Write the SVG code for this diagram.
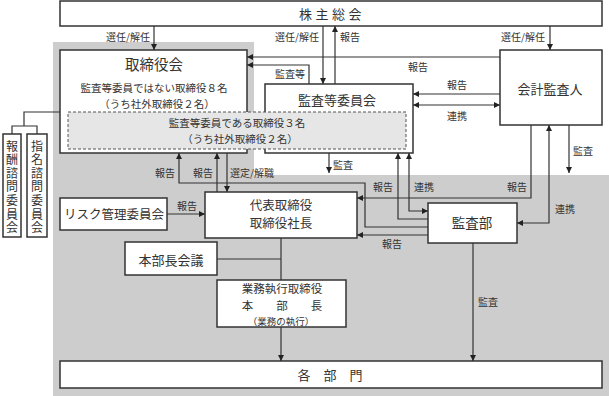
<svg xmlns="http://www.w3.org/2000/svg" width="609" height="396" viewBox="0 0 609 396">
<defs>
<marker id="ah" viewBox="0 0 6 6" refX="6" refY="3" markerWidth="6" markerHeight="6" markerUnits="userSpaceOnUse" orient="auto-start-reverse"><path d="M0,0 L6,3 L0,6 z" fill="#222"/></marker>
<style>
.box{fill:#fff;stroke:#333;stroke-width:1.5}
.ln{fill:none;stroke:#333;stroke-width:1.2}
.ar{marker-end:url(#ah)}
.ar2{marker-start:url(#ah);marker-end:url(#ah)}
text{font-family:"Noto Sans CJK JP","Noto Sans CJK SC",sans-serif;fill:#333}
.lb{font-size:10px}
.nd{font-size:13px}
.vt{font-size:12px;writing-mode:vertical-rl;letter-spacing:1.6px}
</style>
</defs>
<path d="M53,42 H254 V175 H609 V396 H53 Z" fill="#cdcdcd"/>

<g id="kabunushi"><rect class="box" x="60" y="1" width="542" height="25"/><text class="nd" x="332" y="19" text-anchor="middle" letter-spacing="3.5">株主総会</text></g>

<g id="torishimariyakukai"><rect class="box" x="60" y="50" width="187" height="103"/>
<text x="154" y="70" text-anchor="middle" font-size="14.5">取締役会</text>
<text x="154" y="92" text-anchor="middle" font-size="10.5">監査等委員ではない取締役８名</text>
<text x="157" y="107.5" text-anchor="middle" font-size="10.5">（うち社外取締役２名）</text></g>

<g id="kansatouiinkai"><rect class="box" x="265" y="84" width="148" height="69"/>
<text class="nd" x="337" y="105" text-anchor="middle">監査等委員会</text></g>

<g id="kansatou-dashed"><rect x="68" y="112" width="338" height="37" fill="#e6e6e6" stroke="#555" stroke-width="1" stroke-dasharray="3,2"/>
<text x="237" y="127" text-anchor="middle" font-size="10.5">監査等委員である取締役３名</text>
<text x="240" y="142.5" text-anchor="middle" font-size="10.5">（うち社外取締役２名）</text></g>

<g id="kaikeikansanin"><rect class="box" x="500" y="50" width="102" height="75"/><text class="nd" x="550" y="94" text-anchor="middle">会計監査人</text></g>

<g id="houshu"><rect class="box" x="3" y="134" width="18" height="103"/>
<text class="vt" x="12" y="140">報酬諮問委員会</text></g>
<g id="shimei"><rect class="box" x="27" y="134" width="20" height="103"/>
<text class="vt" x="37" y="140">指名諮問委員会</text></g>

<g id="daihyo"><rect class="box" x="205" y="192" width="152" height="46"/>
<text x="281" y="210" text-anchor="middle" font-size="12.5">代表取締役</text>
<text x="281" y="228" text-anchor="middle" font-size="12.5">取締役社長</text></g>

<g id="kansabu"><rect class="box" x="428" y="203" width="89" height="40"/><text x="472" y="228" text-anchor="middle" font-size="13.5">監査部</text></g>

<g id="risk"><rect class="box" x="60" y="198" width="107" height="32"/><text x="114" y="219" text-anchor="middle" font-size="12.5">リスク管理委員会</text></g>

<g id="honbuchokaigi"><rect class="box" x="125" y="242" width="92" height="33"/><text class="nd" x="171" y="265" text-anchor="middle">本部長会議</text></g>

<g id="gyomu"><rect class="box" x="217" y="280" width="129" height="47"/>
<text x="282" y="293" text-anchor="middle" font-size="11.5">業務執行取締役</text>
<text x="282" y="309.8" text-anchor="middle" font-size="11.5">本　　部　　長</text>
<text x="281" y="325" text-anchor="middle" font-size="9.5">（業務の執行）</text></g>

<g id="kakubumon"><rect class="box" x="60" y="361" width="542" height="27"/><text class="nd" x="330" y="380" text-anchor="middle">各　部　門</text></g>

<g id="connectors">
<path class="ln ar" d="M154,26 V50"/>
<path class="ln ar" d="M323,26 V84"/>
<path class="ln ar" d="M335,84 V26"/>
<path class="ln ar" d="M550,26 V50"/>
<path class="ln ar" d="M500,57 H247"/>
<path class="ln ar" d="M309,84 V65 H247"/>
<path class="ln ar" d="M500,94 H413"/>
<path class="ln ar2" d="M413,105 H500"/>
<path class="ln ar" d="M531,125 V198 H357"/>
<path class="ln ar2" d="M549,125 V223 H517"/>
<path class="ln ar" d="M569,125 V173"/>
<path class="ln ar" d="M329,153 V173"/>
<path class="ln ar" d="M428,219 H398 V153"/>
<path class="ln ar2" d="M409,153 V211 H428"/>
<path class="ln ar" d="M428,227 H365 V183 H179 V153"/>
<path class="ln ar" d="M428,235 H357"/>
<path class="ln ar" d="M227,153 V192"/>
<path class="ln ar" d="M217,192 V153"/>
<path class="ln ar" d="M167,214 H205"/>
<path class="ln" d="M217,259 H281"/>
<path class="ln" d="M281,238 V280"/>
<path class="ln ar" d="M281,327 V361"/>
<path class="ln ar" d="M473,243 V361"/>
<path class="ln" d="M60,112 H24 V126 M12,134 V126 H37 V134"/>
</g>

<g id="labels" class="lb">
<text x="150" y="41" text-anchor="end">選任/解任</text>
<text x="319" y="41" text-anchor="end">選任/解任</text>
<text x="340" y="41">報告</text>
<text x="545" y="41" text-anchor="end">選任/解任</text>
<text x="418" y="71" text-anchor="middle">報告</text>
<text x="290" y="78" text-anchor="middle">監査等</text>
<text x="457" y="89" text-anchor="middle">報告</text>
<text x="457" y="120" text-anchor="middle">連携</text>
<text x="573" y="155">監査</text>
<text x="333" y="169">監査</text>
<text x="175" y="177" text-anchor="end">報告</text>
<text x="213" y="177" text-anchor="end">報告</text>
<text x="230" y="177">選定/解職</text>
<text x="383" y="191" text-anchor="middle">報告</text>
<text x="424" y="191" text-anchor="middle">連携</text>
<text x="517" y="191" text-anchor="middle">報告</text>
<text x="555" y="213">連携</text>
<text x="187" y="210" text-anchor="middle">報告</text>
<text x="392" y="248" text-anchor="middle">報告</text>
<text x="478" y="306">監査</text>
</g>
</svg>
